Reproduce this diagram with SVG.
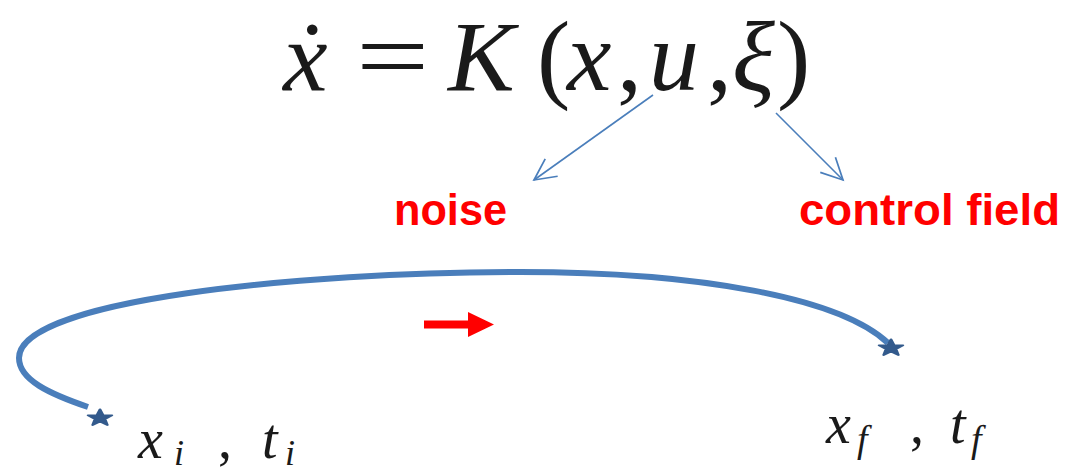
<svg xmlns="http://www.w3.org/2000/svg" width="1065" height="475" viewBox="0 0 1065 475">
  <style>
    .math { font-family: "Liberation Serif", "DejaVu Serif", serif; font-style: italic; fill: #1a1a1a; }
    .up { font-style: normal; }
    .lbl { font-family: "Liberation Sans", Arial, sans-serif; font-weight: bold; font-size: 44px; fill: #ff0000; }
    .conn { stroke: #4a7ebb; stroke-width: 1.6; fill: none; }
    .traj { stroke: #4a7ebb; stroke-width: 6; fill: none; stroke-linecap: butt; }
    .star { fill: #335a8c; stroke: #335a8c; stroke-width: 2.5; stroke-linejoin: round; }
  </style>
  <defs>
    <marker id="open" markerUnits="userSpaceOnUse" markerWidth="30" markerHeight="30" refX="0" refY="0" viewBox="-24 -12 28 24" orient="auto">
      <path d="M -20 -10 L 0 0 L -20 10" fill="none" stroke="#4a7ebb" stroke-width="1.6"/>
    </marker>
    <polygon id="starShape" points="0,-12 2.94,-4.05 11.4,-3.7 4.76,1.55 7.05,9.7 0,5 -7.05,9.7 -4.76,1.55 -11.4,-3.7 -2.94,-4.05"/>
  </defs>
  <rect width="1065" height="475" fill="#ffffff"/>

  <g id="equation">
    <text class="math" font-size="100" y="90">
      <tspan x="283">ẋ</tspan>
      <tspan x="448">K</tspan>
      <tspan x="537" class="up">(</tspan>
      <tspan x="567">x</tspan>
      <tspan x="617" class="up">,</tspan>
      <tspan x="649">u</tspan>
      <tspan x="707" class="up">,</tspan>
      <tspan x="732">ξ</tspan>
      <tspan x="777" class="up">)</tspan>
    </text>
    <text class="math up" font-size="100" x="0" y="0" transform="translate(356,90) scale(1.3,1)">=</text>
  </g>

  <g id="noise">
    <text class="lbl" x="394" y="225" textLength="113" lengthAdjust="spacingAndGlyphs">noise</text>
  </g>
  <g id="control-field">
    <text class="lbl" x="799" y="225" textLength="261" lengthAdjust="spacingAndGlyphs">control field</text>
  </g>

  <g id="connectors">
    <line class="conn" x1="653" y1="95" x2="534" y2="180" marker-end="url(#open)"/>
    <line class="conn" x1="776" y1="113" x2="843" y2="180" marker-end="url(#open)"/>
  </g>

  <g id="trajectory">
    <path class="traj" d="M 88 407 C 50 394 19 380 19 358 C 19 300 300 272 520 272 C 700 272 840 298 888 343"/>
    <path d="M 424 320.5 L 468 320.5 L 468 312 L 494 324.5 L 468 337 L 468 328.5 L 424 328.5 Z" fill="#ff0000"/>
  </g>

  <g id="start-point">
    <use href="#starShape" class="star" transform="translate(100,418) scale(1.05,0.72)"/>
    <text class="math" font-size="56" y="458">
      <tspan x="138">x</tspan><tspan x="174" dy="7" font-size="36">i</tspan>
      <tspan x="218" dy="-7" class="up">,</tspan>
      <tspan x="262">t</tspan><tspan x="285" dy="7" font-size="36">i</tspan>
    </text>
  </g>

  <g id="end-point">
    <use href="#starShape" class="star" transform="translate(891,348) scale(1.05,0.72)"/>
    <text class="math" font-size="56" y="443">
      <tspan x="826">x</tspan><tspan x="857" dy="9" font-size="38">f</tspan>
      <tspan x="910" dy="-9" class="up">,</tspan>
      <tspan x="950">t</tspan><tspan x="971" dy="9" font-size="38">f</tspan>
    </text>
  </g>
</svg>
